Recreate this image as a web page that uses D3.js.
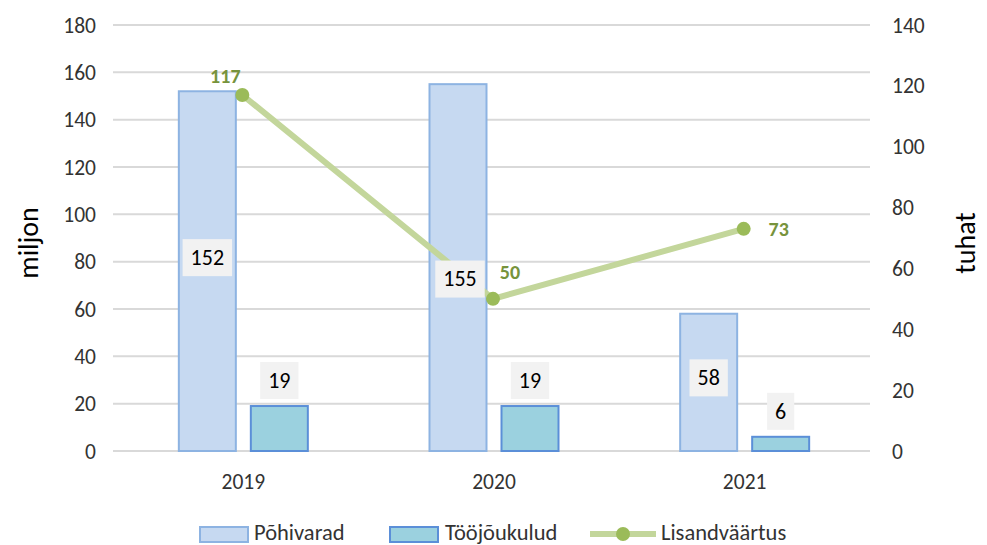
<!DOCTYPE html>
<html>
<head>
<meta charset="utf-8">
<script src="https://cdn.jsdelivr.net/npm/d3@7"></script>
<style>
  body { margin: 0; background: #fff; }
  svg text { font-family: Carlito, Lato, "Open Sans", sans-serif; }
</style>
</head>
<body>
<div id="chart"></div>
<script>
// andmed
const years = ['2019', '2020', '2021'];
const pohivarad = [152, 155, 58];
const toojoukulud = [19, 19, 6];
const lisandvaartus = [117, 50, 73];
const leftTicks = [0, 20, 40, 60, 80, 100, 120, 140, 160, 180];
const rightTicks = [0, 20, 40, 60, 80, 100, 120, 140];

const width = 987, height = 545;
const m = { left: 118, right: 117, top: 25, bottom: 94 };

const svg = d3.select('#chart').append('svg')
  .attr('width', width).attr('height', height);

const x = d3.scaleBand().domain(years).range([m.left, width - m.right]);
const yL = d3.scaleLinear().domain([0, 180]).range([height - m.bottom, m.top]);
const yR = d3.scaleLinear().domain([0, 140]).range([height - m.bottom, m.top]);

// ruudustik
svg.append('g').selectAll('line').data(leftTicks).enter().append('line')
  .attr('x1', m.left - 5).attr('x2', width - m.right)
  .attr('y1', d => yL(d)).attr('y2', d => yL(d))
  .attr('stroke', '#d9d9d9').attr('stroke-width', 2);

// vasak telg
svg.append('g').selectAll('text').data(leftTicks).enter().append('text')
  .attr('x', 96).attr('y', d => yL(d)).attr('dy', '0.35em')
  .attr('text-anchor', 'end').attr('font-size', 21.5).attr('fill', '#333')
  .text(d => d);

// parem telg
svg.append('g').selectAll('text').data(rightTicks).enter().append('text')
  .attr('x', 892).attr('y', d => yR(d)).attr('dy', '0.35em')
  .attr('text-anchor', 'start').attr('font-size', 21.5).attr('fill', '#333')
  .text(d => d);

svg.append('text').attr('transform', 'translate(38,' + 243 + ') rotate(-90)')
  .attr('text-anchor', 'middle').attr('font-size', 28).attr('fill', '#000').text('miljon');
svg.append('text').attr('transform', 'translate(975,' + 243 + ') rotate(-90)')
  .attr('text-anchor', 'middle').attr('font-size', 28).attr('fill', '#000').text('tuhat');

// x telg
svg.append('g').selectAll('text').data(years).enter().append('text')
  .attr('x', d => x(d) + x.bandwidth() / 2).attr('y', 489)
  .attr('text-anchor', 'middle').attr('font-size', 21.5).attr('fill', '#333')
  .text(d => d);

const barW = 57, off = 36;

// tulbad
svg.append('g').selectAll('rect').data(pohivarad).enter().append('rect')
  .attr('x', (d, i) => x(years[i]) + x.bandwidth() / 2 - off - barW / 2)
  .attr('y', d => yL(d)).attr('width', barW).attr('height', d => yL(0) - yL(d))
  .attr('fill', '#c6d9f1').attr('stroke', '#8db3e2').attr('stroke-width', 2);

svg.append('g').selectAll('rect').data(toojoukulud).enter().append('rect')
  .attr('x', (d, i) => x(years[i]) + x.bandwidth() / 2 + off - barW / 2)
  .attr('y', d => yL(d)).attr('width', barW).attr('height', d => yL(0) - yL(d))
  .attr('fill', '#9bd1df').attr('stroke', '#5b8fd8').attr('stroke-width', 2);

// joon
const line = d3.line()
  .x((d, i) => x(years[i]) + x.bandwidth() / 2 - 1)
  .y(d => yR(d));
svg.append('path').datum(lisandvaartus).attr('d', line)
  .attr('fill', 'none').attr('stroke', '#c3d69b').attr('stroke-width', 6);
svg.append('g').selectAll('circle').data(lisandvaartus).enter().append('circle')
  .attr('cx', (d, i) => x(years[i]) + x.bandwidth() / 2 - 1).attr('cy', d => yR(d))
  .attr('r', 7).attr('fill', '#9bbb59');

// andmesildid kastiga (joone peal)
const boxLabel = (cx, cy, txt) => {
  const g = svg.append('g');
  const t = g.append('text').attr('x', cx).attr('y', cy).attr('dy', '0.35em')
    .attr('text-anchor', 'middle').attr('font-size', 22).attr('fill', '#000').text(txt);
  const bb = t.node().getBBox();
  g.insert('rect', 'text').attr('x', bb.x - 8).attr('y', cy - 18)
    .attr('width', bb.width + 16).attr('height', 37).attr('fill', '#f2f2f2');
};
// sildid on Excelis käsitsi nihutatud
const pohiLblOff = [[0, -14], [2, 11], [0, -5]];
pohivarad.forEach((d, i) => {
  boxLabel(x(years[i]) + x.bandwidth() / 2 - off + pohiLblOff[i][0], yL(d / 2) + pohiLblOff[i][1], d);
});
toojoukulud.forEach((d, i) => {
  boxLabel(x(years[i]) + x.bandwidth() / 2 + off, yL(d) - 26, d);
});

const lineLblOff = [[-17, -19], [17, -27], [35, 0]];
svg.append('g').selectAll('text').data(lisandvaartus).enter().append('text')
  .attr('x', (d, i) => x(years[i]) + x.bandwidth() / 2 - 1 + lineLblOff[i][0])
  .attr('y', (d, i) => yR(d) + lineLblOff[i][1]).attr('dy', '0.35em')
  .attr('text-anchor', 'middle').attr('font-size', 20).attr('font-weight', 'bold')
  .attr('fill', '#77933c').text(d => d);

// legend
const lg = svg.append('g').attr('font-size', 22.5);
lg.append('rect').attr('x', 200).attr('y', 527).attr('width', 48).attr('height', 15)
  .attr('fill', '#c6d9f1').attr('stroke', '#8db3e2').attr('stroke-width', 2);
lg.append('text').attr('x', 254).attr('y', 532).attr('dy', '0.35em').attr('fill', '#333').text('Põhivarad');
lg.append('rect').attr('x', 390).attr('y', 527).attr('width', 48).attr('height', 15)
  .attr('fill', '#9bd1df').attr('stroke', '#5b8fd8').attr('stroke-width', 2);
lg.append('text').attr('x', 445).attr('y', 532).attr('dy', '0.35em').attr('fill', '#333').text('Tööjõukulud');
lg.append('line').attr('x1', 590).attr('x2', 656).attr('y1', 534).attr('y2', 534)
  .attr('stroke', '#c3d69b').attr('stroke-width', 6);
lg.append('circle').attr('cx', 623).attr('cy', 534).attr('r', 7).attr('fill', '#9bbb59');
lg.append('text').attr('x', 661).attr('y', 532).attr('dy', '0.35em').attr('fill', '#333').text('Lisandväärtus');
</script>
</body>
</html>
